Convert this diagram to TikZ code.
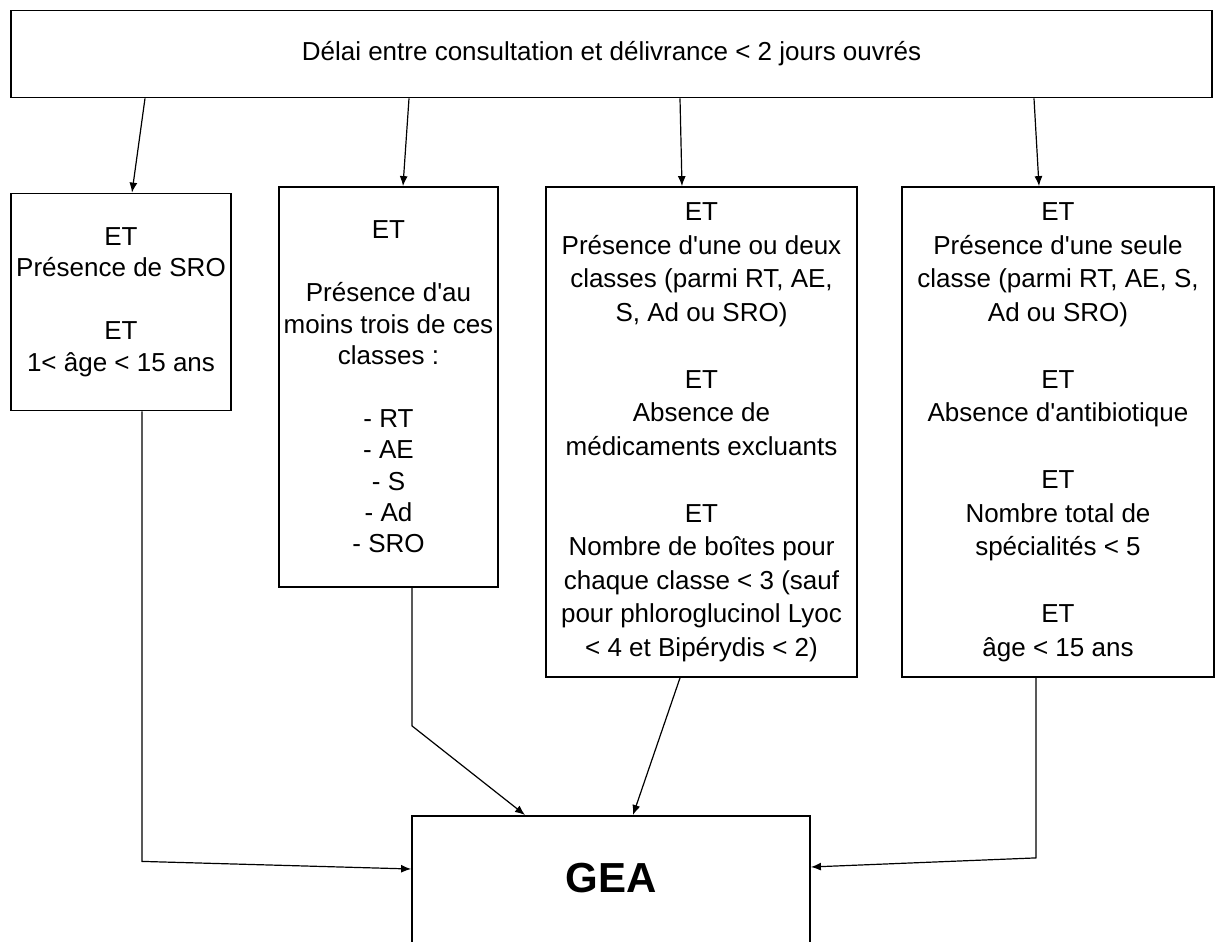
\documentclass[tikz,border=0pt]{standalone}
\usepackage{fontspec}
\setmainfont{Liberation Sans}
\usetikzlibrary{arrows.meta}

\newcommand\ap{\textquotesingle}
\newcommand\gap{\\[\baselineskip]}

\begin{document}
\begin{tikzpicture}[x=0.5pt, y=-0.5pt,
        box/.style={draw, line width=0.9pt, inner sep=0pt, align=center},
        tight/.style={font=\fontsize{13}{15.7}\selectfont},
        loose/.style={font=\fontsize{13}{16.75}\selectfont},
        link/.style={-{Latex[length=5pt, width=4pt]}, line width=0.6pt}]
    \useasboundingbox (0,0) rectangle (1216,942);
    \clip (0,0) rectangle (1216,942);

    \node[box, tight, minimum width=600.5pt, minimum height=43.5pt] (top) at (611.5,54)
        {Délai entre consultation et délivrance < 2 jours ouvrés};

    \node[box, tight, minimum width=110pt, minimum height=108.5pt] (b1) at (121,302)
        {ET\\Présence de SRO\gap ET\\1< âge < 15 ans};
    \node[box, tight, minimum width=109.5pt, minimum height=200pt] (b2) at (388.5,387)
        {ET\gap Présence d\ap au\\moins trois de ces\\classes :\gap
         - RT\\- AE\\- S\\- Ad\\- SRO};
    \node[box, loose, minimum width=155.5pt, minimum height=245pt] (b3) at (701.5,432)
        {ET\\Présence d\ap une ou deux\\classes (parmi RT, AE,\\S, Ad ou SRO)\gap
         ET\\Absence de\\médicaments excluants\gap
         ET\\Nombre de boîtes pour\\chaque classe < 3 (sauf\\pour phloroglucinol Lyoc\\< 4 et Bipérydis < 2)};
    \node[box, loose, minimum width=156pt, minimum height=245pt] (b4) at (1058,432)
        {ET\\Présence d\ap une seule\\classe (parmi RT, AE, S,\\Ad ou SRO)\gap
         ET\\Absence d\ap antibiotique\gap
         ET\\Nombre total de\\spécialités < 5\gap
         ET\\âge < 15 ans};

    \node[box, minimum width=199pt, minimum height=100pt, anchor=north] (gea) at (611,815) {};
    \node[font=\fontsize{21}{25}\selectfont\bfseries] (geatext) at (gea.north |- 0,878) {GEA};

    \foreach \s/\e/\n in {145/132/b1, 409/403/b2, 680/682/b3, 1034/1039/b4}{
        \draw[link] (top.south -| \s,0) -- (\n.north -| \e,0);
    }

    \draw[link] (b1.south -| 142,0) -- ++(0,450) -- (gea.west |- 0,869);
    \draw[link] (b2.south -| 412,0) -- ++(0,138) -- (gea.north -| 525,0);
    \draw[link] (b3.south -| 680,0) -- (gea.north -| 633,0);
    \draw[link] (b4.south -| 1036,0) -- ++(0,180) -- (gea.east |- 0,867);
\end{tikzpicture}
\end{document}
